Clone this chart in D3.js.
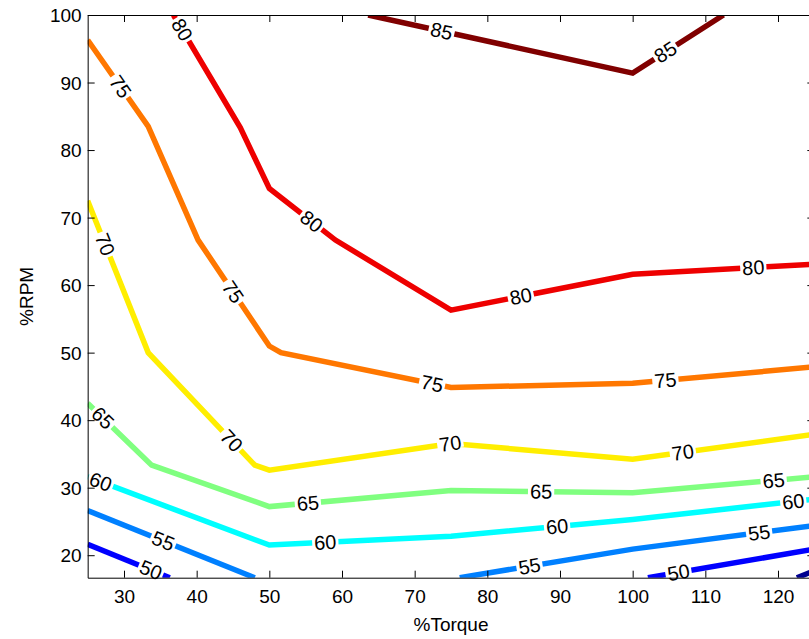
<!DOCTYPE html>
<html>
<head>
<meta charset="utf-8">
<script src="https://cdn.jsdelivr.net/npm/d3@7"></script>
<style>
body { margin: 0; background: #fff; }
svg { display: block; font-family: "Liberation Sans", Arial, Helvetica, sans-serif; }
.axis path, .axis line { stroke: #000; stroke-width: 1; }
.axis .tick text { font-size: 19px; fill: #000; font-family: "Liberation Sans", Arial, sans-serif; }
.clabel { font-size: 20px; fill: #000; }
.axis-title { font-size: 19px; fill: #000; }
</style>
</head>
<body>
<svg id="chart" width="809" height="639"></svg>
<script>
// contour levels and their polylines, vertices as [%Torque, %RPM]
var levels = [45, 50, 55, 60, 65, 70, 75, 80, 85];

var line45 = [[[122.6, 16.67], [125, 17.7]]];
var line50 = [[[25, 21.6], [36.3, 16.67]], [[102.1, 16.67], [125, 20.9]]];
var line55 = [[[25, 26.6], [48, 16.67]], [[76.2, 16.67], [100, 20.9], [125, 24.4]]];
var line60 = [[[25, 31.6], [50, 21.5], [75, 22.8], [100, 25.3], [125, 28.3]]];
var line65 = [[[25, 42.5], [33.8, 33.33], [50, 27.2], [75, 29.6], [100, 29.25], [125, 31.6]]];
var line70 = [[[25, 72.5], [33.33, 50], [48, 33.33], [50, 32.6], [75, 36.55], [100, 34.2], [125, 37.9]]];
var line75 = [[[25, 96.3], [33.33, 83.5], [40.2, 66.67], [50, 50.98], [51.6, 50], [75, 44.85], [100, 45.45], [125, 47.9]]];
var line80 = [[[36.8, 100], [46, 83.33], [50, 74.3], [59.1, 66.67], [75, 56.3], [100, 61.6], [125, 63.1]]];
var line85 = [[[63.6, 100], [100, 91.4], [112.5, 100]]];

// %Torque position of each inline label on its level
var labels45 = [];
var labels50 = [33.7, 106.3];
var labels55 = [35.4, 85.8, 117.4];
var labels60 = [26.8, 57.7, 89.6, 122.1];
var labels65 = [27.1, 55.3, 87.4, 119.4];
var labels70 = [27.4, 44.8, 74.9, 106.9];
var labels75 = [29.5, 45.0, 72.4, 104.5];
var labels80 = [38.0, 55.8, 84.6, 116.6];
var labels85 = [73.7, 104.5];

var xTicks = [30, 40, 50, 60, 70, 80, 90, 100, 110, 120];
var yTicks = [20, 30, 40, 50, 60, 70, 80, 90, 100];

var lines = [line45, line50, line55, line60, line65, line70, line75, line80, line85];
var labelSets = [labels45, labels50, labels55, labels60, labels65, labels70, labels75, labels80, labels85];

// jet-like colours, one per level
var palette = ["#00008f", "#0000ff", "#0080ff", "#00ffff", "#80ff80", "#ffee00", "#ff7700", "#ee0000", "#800000"];

var svg = d3.select("#chart");

var x = d3.scaleLinear().domain([25, 125]).range([87.67, 814.33]);
var y = d3.scaleLinear().domain([16.67, 100]).range([577.7, 15]);

svg.append("defs").append("clipPath")
	.attr("id", "plot-clip")
	.append("rect")
	.attr("x", x(25))
	.attr("y", y(100))
	.attr("width", x(125) - x(25))
	.attr("height", y(16.67) - y(100));

var plot = svg.append("g").attr("clip-path", "url(#plot-clip)");

var path = d3.line()
	.x(function(d) { return x(d[0]); })
	.y(function(d) { return y(d[1]); });

levels.forEach(function(lev, i) {
	plot.selectAll(null)
		.data(lines[i])
		.enter().append("path")
		.attr("d", path)
		.attr("fill", "none")
		.attr("stroke", palette[i])
		.attr("stroke-width", 5.5)
		.attr("stroke-linejoin", "miter");
});

// find pixel position and angle of a point on a level's polyline
function placeOnLine(paths, xv) {
	for (var i = 0; i < paths.length; i++) {
		var p = paths[i];
		for (var j = 0; j < p.length - 1; j++) {
			if (xv >= p[j][0] && xv <= p[j + 1][0]) {
				var t = (xv - p[j][0]) / (p[j + 1][0] - p[j][0]);
				var yv = p[j][1] + t * (p[j + 1][1] - p[j][1]);
				var dx = x(p[j + 1][0]) - x(p[j][0]);
				var dy = y(p[j + 1][1]) - y(p[j][1]);
				var ang = Math.atan2(dy, dx) * 180 / Math.PI;
				if (ang > 90) ang -= 180;
				if (ang < -90) ang += 180;
				return {px: x(xv), py: y(yv), ang: ang};
			}
		}
	}
	return null;
}

var labelLayer = svg.append("g");

levels.forEach(function(lev, i) {
	labelSets[i].forEach(function(xv) {
		var pos = placeOnLine(lines[i], xv);
		if (!pos) return;
		var g = labelLayer.append("g")
			.attr("transform", "translate(" + pos.px + "," + pos.py + ") rotate(" + pos.ang + ")");
		var gap = g.append("rect").attr("fill", "#fff");
		var t = g.append("text")
			.attr("class", "clabel")
			.attr("text-anchor", "middle")
			.attr("dy", "0.35em")
			.text(lev);
		var w = t.node().getComputedTextLength() + 4;
		gap.attr("x", -w / 2).attr("y", -5).attr("width", w).attr("height", 10);
	});
});

// axes, ticks pointing inward on all four sides
var bottom = svg.append("g")
	.attr("class", "axis")
	.attr("transform", "translate(0," + y(16.67) + ")")
	.call(d3.axisBottom(x).tickValues(xTicks).tickSizeInner(-7).tickSizeOuter(0).tickPadding(12));

var top = svg.append("g")
	.attr("class", "axis")
	.attr("transform", "translate(0," + y(100) + ")")
	.call(d3.axisTop(x).tickValues(xTicks).tickSizeInner(-7).tickSizeOuter(0).tickFormat(""));

var left = svg.append("g")
	.attr("class", "axis")
	.attr("transform", "translate(" + x(25) + ",0)")
	.call(d3.axisLeft(y).tickValues(yTicks).tickSizeInner(-7).tickSizeOuter(0).tickPadding(6));

var right = svg.append("g")
	.attr("class", "axis")
	.attr("transform", "translate(" + x(125) + ",0)")
	.call(d3.axisRight(y).tickValues(yTicks).tickSizeInner(-7).tickSizeOuter(0).tickFormat(""));

svg.selectAll(".axis").attr("font-family", null).attr("font-size", null);
left.selectAll(".tick text").attr("dy", "0.35em");
bottom.selectAll(".tick text").attr("dy", "0.71em");

svg.append("text")
	.attr("class", "axis-title")
	.attr("x", x(75))
	.attr("y", 631)
	.attr("text-anchor", "middle")
	.text("%Torque");

svg.append("text")
	.attr("class", "axis-title")
	.attr("transform", "translate(33," + y(58.33) + ") rotate(-90)")
	.attr("text-anchor", "middle")
	.text("%RPM");
</script>
</body>
</html>
